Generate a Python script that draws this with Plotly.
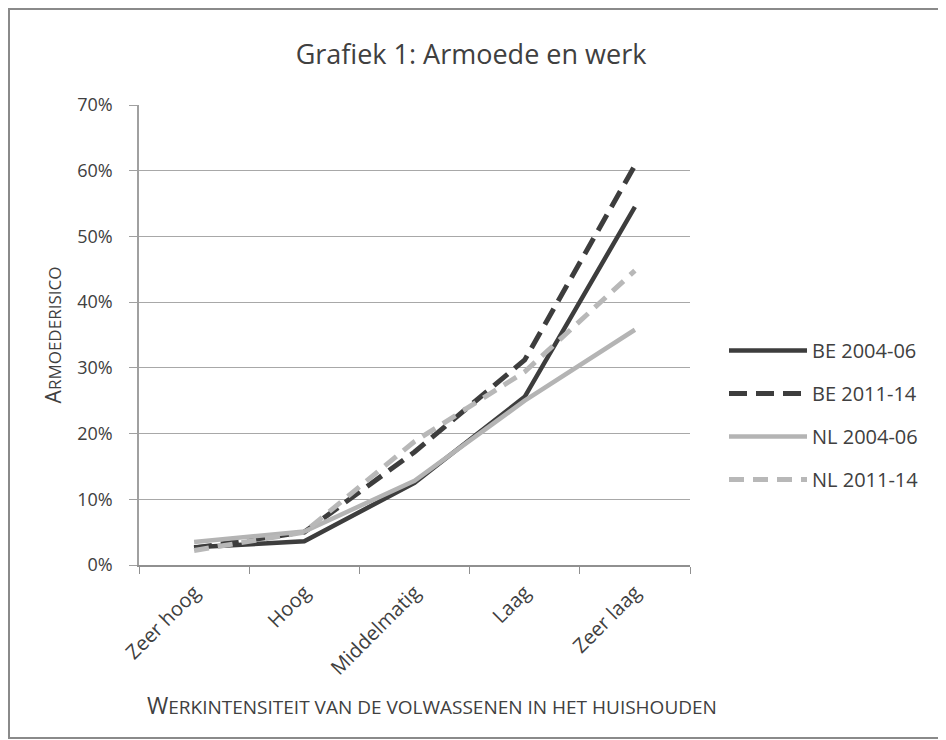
import plotly.graph_objects as go

categories = ["Zeer hoog", "Hoog", "Middelmatig", "Laag", "Zeer laag"]
be_2004 = [0.027, 0.036, 0.125, 0.256, 0.545]
be_2011 = [0.026, 0.050, 0.172, 0.312, 0.608]
nl_2004 = [0.035, 0.051, 0.128, 0.250, 0.358]
nl_2011 = [0.022, 0.050, 0.188, 0.294, 0.448]

series = [
    ("BE 2004-06", be_2004, "#3d3d3d", "solid", 4.5),
    ("BE 2011-14", be_2011, "#3d3d3d", "18px,9px", 5),
    ("NL 2004-06", nl_2004, "#b4b4b4", "solid", 4.5),
    ("NL 2011-14", nl_2011, "#b8b8b8", "15px,9px", 5),
]

FONT = "'Open Sans', sans-serif"
W, H = 938, 732            # page body has an 8px margin
L, R, T, B = 131, 256, 97, 175
PW, PH = W - L - R, H - T - B

fig = go.Figure()
for i, (name, vals, color, dash, w) in enumerate(series):
    fig.add_trace(go.Scatter(
        x=categories, y=vals, name=name, mode="lines",
        line=dict(color=color, dash=dash, width=w),
        legendgroup=f"g{i}",
    ))

fig.update_layout(
    width=W, height=H,
    paper_bgcolor="white", plot_bgcolor="white",
    margin=dict(l=L, r=R, t=T, b=B, autoexpand=False),
    font=dict(family=FONT, color="#404040", size=18),
    title=dict(text="Grafiek 1: Armoede en werk", x=463 / W, xanchor="center",
               y=1 - 47 / H, yanchor="middle", font=dict(size=27, color="#404040")),
    legend=dict(x=1 + 34 / PW, xanchor="left", y=(557 - 407) / PH, yanchor="middle",
                font=dict(size=20, color="#404040"), itemwidth=78,
                tracegroupgap=14, bgcolor="rgba(0,0,0,0)"),
    showlegend=True,
)
fig.update_xaxes(
    type="category", range=[-0.5, 4.5], tickson="boundaries", ticks="outside",
    ticklen=7, tickcolor="#909090", showline=True, linecolor="#909090", linewidth=1.5,
    showgrid=False, tickangle=-45, tickfont=dict(size=20, color="#404040"),
    ticklabelstandoff=6, automargin=False,
)
fig.update_yaxes(
    range=[0, 0.7], dtick=0.1, tickformat=".0%", ticks="outside", ticklen=8,
    tickcolor="#a0a0a0", showline=True, linecolor="#a0a0a0", linewidth=1.5,
    showgrid=True, gridcolor="#a8a8a8", gridwidth=1, zeroline=False,
    tickfont=dict(size=18, color="#404040"), ticklabelstandoff=13, automargin=False,
    title=dict(text="A<span style='font-size:17px'>RMOEDERISICO</span>",
               font=dict(size=21, color="#404040"), standoff=10),
)
fig.add_annotation(
    text="W<span style='font-size:19px'>ERKINTENSITEIT VAN DE VOLWASSENEN IN HET HUISHOUDEN</span>",
    xref="paper", yref="paper", x=(432 - 139) / PW, y=(557 - 697) / PH,
    xanchor="center", yanchor="middle", showarrow=False,
    font=dict(size=23, color="#404040"),
)
fig.add_shape(type="rect", xref="paper", yref="paper",
              x0=(1 - L) / PW, x1=(933 - L) / PW,
              y0=(557 - 730) / PH, y1=(557 - 1) / PH,
              line=dict(color="#8a8a8a", width=2))
fig.write_html("out.html")
